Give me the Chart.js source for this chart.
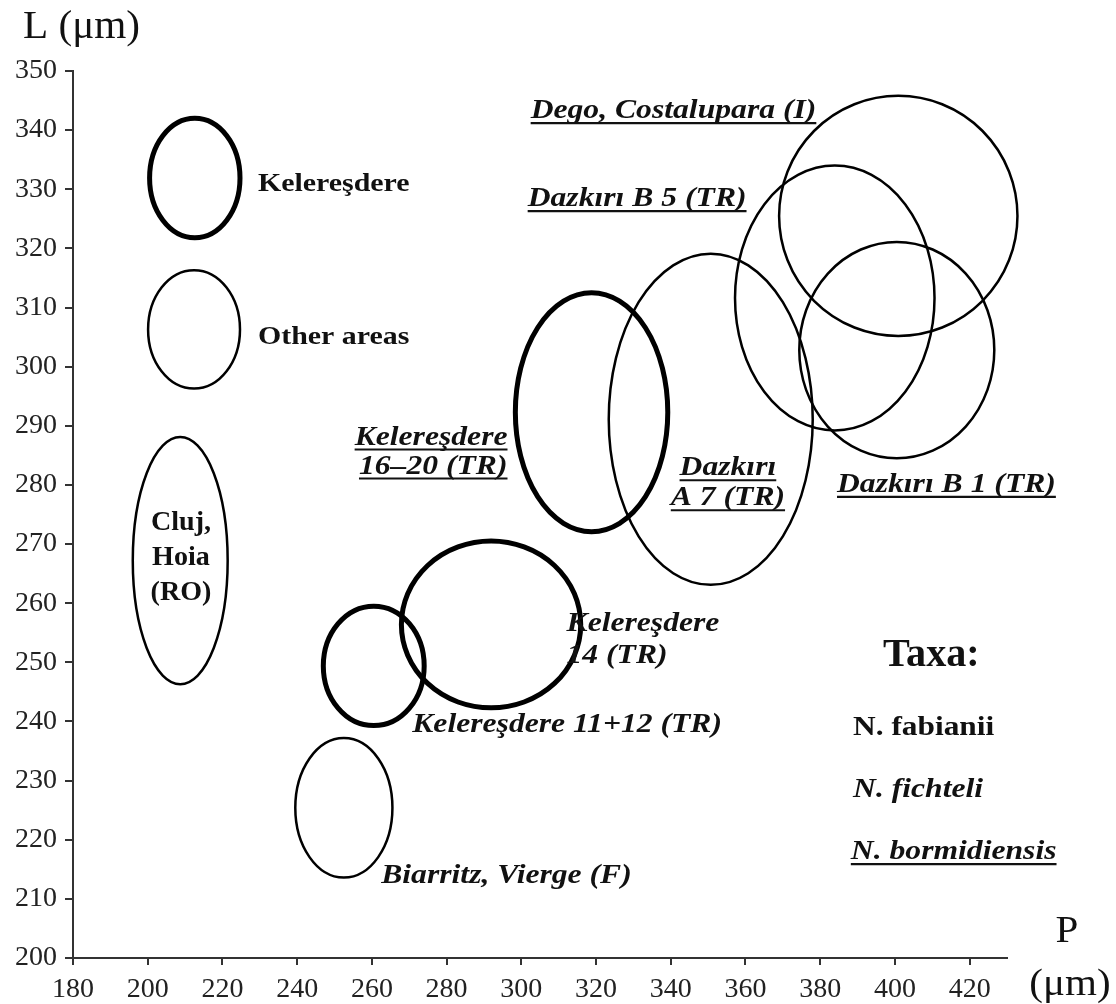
<!DOCTYPE html>
<html>
<head>
<meta charset="utf-8">
<script src="https://cdn.jsdelivr.net/npm/chart.js@4/dist/chart.umd.min.js"></script>
<style>
  html, body { margin: 0; padding: 0; background: #fff; }
  #wrap { width: 1116px; height: 1004px; }
</style>
</head>
<body>
<div id="wrap"><canvas id="c" width="1116" height="1004"></canvas></div>
<script>
// Mean test size (P, L in μm) and spread of each population, drawn as ellipses
const populations = ['Cluj, Hoia (RO)', 'Biarritz, Vierge (F)', 'Kelereşdere 11+12 (TR)', 'Kelereşdere 14 (TR)',
  'Kelereşdere 16–20 (TR)', 'Dazkırı A 7 (TR)', 'Dazkırı B 5 (TR)', 'Dego, Costalupara (I)', 'Dazkırı B 1 (TR)'];
const meanP   = [208.7, 252.5, 260.5, 291.9, 318.8, 350.7, 383.9, 400.9, 400.5];
const meanL   = [267.2, 225.4, 249.4, 256.4, 292.3, 291.1, 311.6, 325.5, 302.8];
const spreadP = [12.7, 13.0, 13.5, 24.0, 20.4, 27.3, 26.7, 31.9, 26.1];
const spreadL = [20.9, 11.8, 10.1, 14.1, 20.2, 28.0, 22.4, 20.3, 18.3];
const fromKeleresdere = [false, false, true, true, true, false, false, false, false];

// Key ellipses: Kelereşdere vs other areas
const keyNames   = ['Kelereşdere', 'Other areas'];
const keyP       = [212.6, 212.4];
const keyL       = [331.9, 306.3];
const keySpreadP = [12.1, 12.3];
const keySpreadL = [10.1, 10.0];
const keyThick   = [true, false];

// Axis ticks
const pTicks = [180, 200, 220, 240, 260, 280, 300, 320, 340, 360, 380, 400, 420];
const lTicks = [200, 210, 220, 230, 240, 250, 260, 270, 280, 290, 300, 310, 320, 330, 340, 350];

// Taxa
const taxa = ['N. fabianii', 'N. fichteli', 'N. bormidiensis'];

const SERIF = '"Liberation Serif", "Times New Roman", serif';
const INK = '#111';

// text annotations: anchor (cap centre of first line) in data units, style per taxon
const notes = [
  { lines: ['Dego, Costalupara (I)'], p: 302.5, l: 343.6, align: 'left', kind: 'bormidiensis' },
  { lines: ['Dazkırı B 5 (TR)'], p: 301.7, l: 328.7, align: 'left', kind: 'bormidiensis' },
  { lines: ['Kelereşdere', '16–20 (TR)'], p: 296.3, l: 288.4, align: 'right', kind: 'bormidiensis', step: 29 },
  { lines: ['Dazkırı', 'A 7 (TR)'], p: 355.3, l: 283.2, align: 'center', kind: 'bormidiensis', step: 30 },
  { lines: ['Dazkırı B 1 (TR)'], p: 384.5, l: 280.4, align: 'left', kind: 'bormidiensis' },
  { lines: ['Kelereşdere', '14 (TR)'], p: 312.1, l: 256.8, align: 'left', kind: 'fichteli', step: 32 },
  { lines: ['Kelereşdere 11+12 (TR)'], p: 270.8, l: 239.7, align: 'left', kind: 'fichteli' },
  { lines: ['Biarritz, Vierge (F)'], p: 262.5, l: 214.3, align: 'left', kind: 'fichteli' },
  { lines: ['Cluj,', 'Hoia', '(RO)'], p: 208.9, l: 273.9, align: 'center', kind: 'fabianiiInside', step: 35 },
  { lines: [keyNames[0]], p: 229.5, l: 331.2, align: 'left', kind: 'key' },
  { lines: [keyNames[1]], p: 229.5, l: 305.3, align: 'left', kind: 'key' },
  { lines: ['Taxa:'], p: 396.8, l: 251.6, align: 'left', kind: 'title' },
  { lines: [taxa[0]], p: 388.8, l: 239.3, align: 'left', kind: 'fabianii' },
  { lines: [taxa[1]], p: 388.8, l: 228.8, align: 'left', kind: 'fichteli' },
  { lines: [taxa[2]], p: 388.2, l: 218.3, align: 'left', kind: 'bormidiensis' }
];

// size in px, horizontal stretch of the glyphs
const styles = {
  bormidiensis:   { weight: 'italic bold', size: 28, stretch: 1.13, underline: true },
  fichteli:       { weight: 'italic bold', size: 28, stretch: 1.13, underline: false },
  fabianii:       { weight: 'bold', size: 28, stretch: 1.12, underline: false },
  fabianiiInside: { weight: 'bold', size: 27, stretch: 1.04, underline: false },
  key:            { weight: 'bold', size: 26, stretch: 1.15, underline: false },
  title:          { weight: 'bold', size: 39, stretch: 1.03, underline: false }
};

function strokeEllipse(ctx, x, y, p, l, sp, sl, width) {
  const cx = x.getPixelForValue(p);
  const cy = y.getPixelForValue(l);
  const rx = Math.abs(x.getPixelForValue(p + sp) - cx);
  const ry = Math.abs(y.getPixelForValue(l + sl) - cy);
  ctx.beginPath();
  ctx.ellipse(cx, cy, rx, ry, 0, 0, Math.PI * 2);
  ctx.lineWidth = width;
  ctx.strokeStyle = '#000';
  ctx.stroke();
}

// draws text with its cap centre at (px, cy), optionally stretched and underlined
function drawText(ctx, text, px, cy, align, st) {
  ctx.save();
  ctx.font = `${st.weight} ${st.size}px ${SERIF}`;
  ctx.textBaseline = 'alphabetic';
  const base = cy + st.size * 0.33;
  const w = ctx.measureText(text).width * st.stretch;
  let x0 = px;
  if (align === 'center') x0 = px - w / 2;
  else if (align === 'right') x0 = px - w;
  ctx.translate(x0, base);
  ctx.scale(st.stretch, 1);
  ctx.textAlign = 'left';
  ctx.fillText(text, 0, 0);
  ctx.restore();
  if (st.underline) {
    ctx.beginPath();
    ctx.lineWidth = 2.2;
    ctx.moveTo(x0, base + 5);
    ctx.lineTo(x0 + w, base + 5);
    ctx.stroke();
  }
}

const ellipsePlugin = {
  id: 'ellipses',
  afterDatasetsDraw(chart) {
    const { ctx, scales: { x, y } } = chart;
    ctx.save();
    for (let i = 0; i < meanP.length; i++) {
      strokeEllipse(ctx, x, y, meanP[i], meanL[i], spreadP[i], spreadL[i], fromKeleresdere[i] ? 5 : 2.5);
    }
    for (let i = 0; i < keyP.length; i++) {
      strokeEllipse(ctx, x, y, keyP[i], keyL[i], keySpreadP[i], keySpreadL[i], keyThick[i] ? 5 : 2.5);
    }
    ctx.restore();
  }
};

const notesPlugin = {
  id: 'notes',
  afterDraw(chart) {
    const { ctx, scales: { x, y } } = chart;
    ctx.save();
    ctx.fillStyle = INK;
    ctx.strokeStyle = INK;
    for (const n of notes) {
      const st = styles[n.kind];
      const step = n.step || 32;
      const px = x.getPixelForValue(n.p);
      const py0 = y.getPixelForValue(n.l);
      n.lines.forEach((t, k) => drawText(ctx, t, px, py0 + k * step, n.align, st));
    }
    // axis names
    const axisName = { weight: 'normal', size: 40, stretch: 1.03, underline: false };
    drawText(ctx, 'L (μm)', 23, 25, 'left', axisName);
    const pName = { weight: 'normal', size: 38, stretch: 1.08, underline: false };
    drawText(ctx, 'P', 1067, 929, 'center', pName);
    drawText(ctx, '(μm)', 1070, 982, 'center', pName);
    ctx.restore();
  }
};

new Chart(document.getElementById('c'), {
  type: 'scatter',
  data: {
    datasets: [{
      label: 'centres',
      data: meanP.map((p, i) => ({ x: p, y: meanL[i] })),
      pointRadius: 0,
      pointHoverRadius: 0
    }]
  },
  options: {
    responsive: false,
    animation: false,
    events: [],
    layout: { padding: { top: 71, right: 109, left: 0, bottom: 0 } },
    plugins: { legend: { display: false }, tooltip: { enabled: false } },
    scales: {
      x: {
        type: 'linear',
        min: 180, max: 430,
        afterBuildTicks: s => { s.ticks = pTicks.map(v => ({ value: v })); },
        afterFit: s => { s.height = 46; },
        border: { display: true, color: '#333', width: 2 },
        grid: { drawOnChartArea: false, drawTicks: true, tickLength: 7, color: '#333', lineWidth: 2 },
        ticks: { color: '#222', font: { family: SERIF, size: 28 }, padding: 8, maxRotation: 0, autoSkip: false }
      },
      y: {
        type: 'linear',
        min: 200, max: 350,
        afterBuildTicks: s => { s.ticks = lTicks.map(v => ({ value: v })); },
        afterFit: s => { s.width = 73; },
        border: { display: true, color: '#333', width: 2 },
        grid: { drawOnChartArea: false, drawTicks: true, tickLength: 8, color: '#333', lineWidth: 2 },
        ticks: { color: '#222', font: { family: SERIF, size: 28 }, padding: 8, autoSkip: false }
      }
    }
  },
  plugins: [ellipsePlugin, notesPlugin]
});
</script>
</body>
</html>
